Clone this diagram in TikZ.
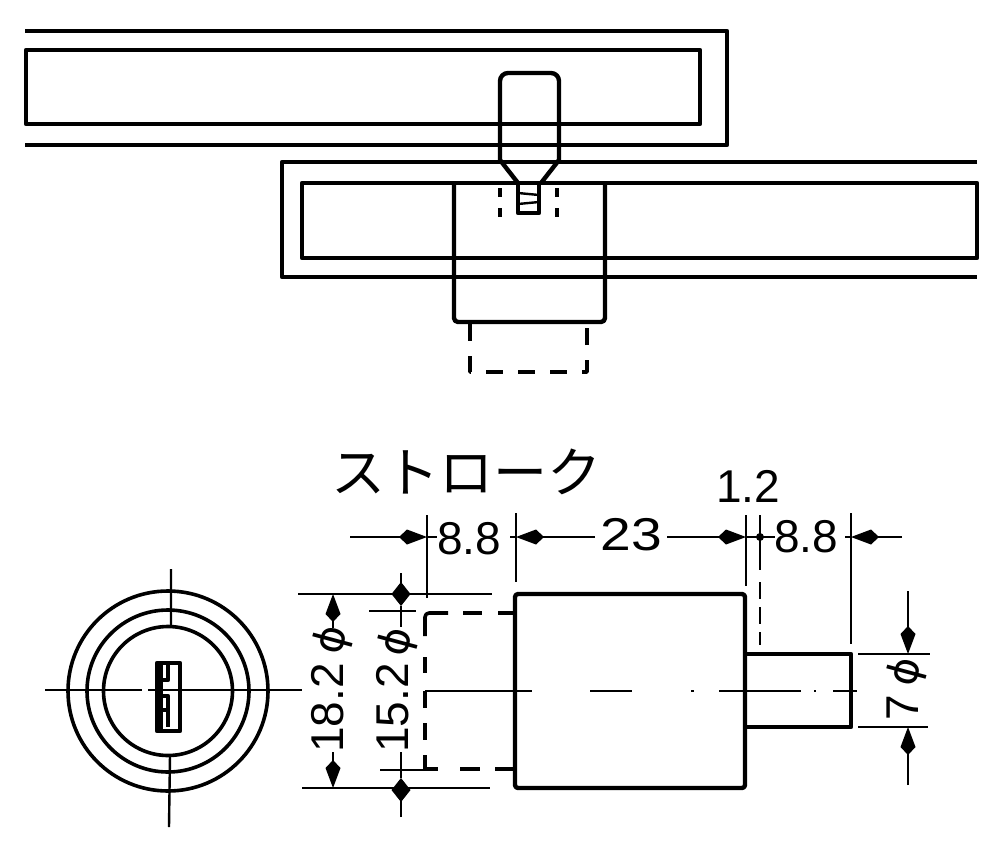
\documentclass[tikz,border=0pt]{standalone}
\usepackage{fontspec}
\setmainfont{Liberation Sans}
\newfontfamily\cjkfont{Noto Sans CJK JP}
\newfontfamily\phifont{DejaVu Sans}
\usepackage{tikz}
\usetikzlibrary{arrows.meta, positioning, calc}

\begin{document}
\begin{tikzpicture}[
    x=1pt, y=-1pt,
    every node/.style={inner sep=0pt, font=\fontsize{46}{46}\selectfont},
    outline/.style={
        line width=4.4pt,
        draw=black,
        line join=round
    },
    hidden/.style={
        line width=3.6pt,
        draw=black,
        line join=round
    },
    thinline/.style={
        line width=2.4pt,
        draw=black
    },
    dimarrow/.style={
        -{Kite[length=28pt, width=15pt, inset=8pt]},
        line width=2.4pt,
        draw=black
    },
    blobarrow/.style={
        -{Kite[length=24pt, width=19pt, inset=12pt]},
        line width=2.4pt,
        draw=black
    },
    phisign/.style={
        font=\fontsize{42}{42}\selectfont\phifont,
        rotate=75
    }
]
\useasboundingbox (0,0) rectangle (1000,851);

% Upper panel
\draw[outline] (25,31) -- (727,31) -- (727,145) -- (25,145);
\draw[outline] (26,50) rectangle (700,124);

% Lower panel
\draw[outline] (977,162) -- (282,162) -- (282,277) -- (977,277);
\draw[outline] (977,183) -- (302,183) -- (302,258) -- (977,258) -- cycle;

% Lock body with plunger drawn out
\draw[outline, rounded corners=4pt] (454,183) -- (454,322) -- (605,322) -- (605,183);
\draw[hidden, dash pattern=on 17pt off 15pt] (470,324) -- (470,372) -- (587,372) -- (587,324);

% Striker pin
\draw[outline, rounded corners=8pt] (500,162) -- (500,73) -- (559,73) -- (559,162);
\draw[outline] (500,160) -- (518,183) (559,160) -- (541,183);
\draw[outline] (518,183) -- (518,213) -- (539,213) -- (539,183);
\draw[thinline] (518,193) -- (539,195) (518,204) -- (539,202);
\draw[hidden, dash pattern=on 9pt off 11pt] (500,188) -- (500,226);
\draw[hidden, dash pattern=on 9pt off 11pt] (557,188) -- (557,226);

% Front view
\draw[hidden] (168,691) circle (100);
\draw[hidden] (168,691) circle (81);
\draw[hidden] (168,691) circle (64.5);
\draw[thinline] (45,690) -- (142,690) (148,690) -- (302,690);
\draw[thinline] (171,569) -- (171,626) (170,755) -- (169,827);
\draw[outline] (157,663) rectangle (180,731);
\draw[outline] (161,663) -- (161,731) (168,663) -- (168,680) -- (162,680);
\draw[outline] (162,696) -- (168,696) -- (168,710) -- (162,710);
\draw[outline] (168,710) -- (168,727);

% Side view
\draw[outline, rounded corners=3pt] (515,594) rectangle (745,788);
\draw[outline] (745,654) -- (851,654) -- (851,727) -- (745,727);
\draw[hidden, rounded corners=4pt] (425,636) -- (425,613) -- (448,613);
\draw[hidden] (463,613) -- (482,613) (498,613) -- (515,613);
\draw[hidden] (425,657) -- (425,673) (425,691) -- (425,708) (425,723) -- (425,740);
\draw[hidden] (425,755) -- (425,769) -- (438,769);
\draw[hidden] (460,769) -- (480,769) (495,769) -- (515,769);
\draw[thinline] (425,691) -- (532,691) (590,691) -- (632,691) (691,691) -- (694,691);
\draw[thinline] (719,691) -- (801,691) (814,691) -- (816,691) (833,691) -- (857,691);

% Extension lines, top
\draw[thinline] (427,515) -- (427,598);
\draw[thinline] (516,513) -- (516,582);
\draw[thinline] (746,515) -- (746,586);
\draw[thinline] (760,515) -- (760,570);
\draw[thinline, dash pattern=on 17pt off 8pt] (760,582) -- (760,645);
\draw[thinline] (851,513) -- (851,644);

% Extension lines, left and right
\draw[thinline] (298,594) -- (492,594);
\draw[thinline] (302,788) -- (490,788);
\draw[thinline] (369,611) -- (416,611);
\draw[thinline] (380,770) -- (425,770);
\draw[thinline] (858,654) -- (930,654);
\draw[thinline] (858,727) -- (928,727);

% Dimensions, top
\draw[dimarrow] (350,537) -- (427,537);
\draw[thinline] (427,537) -- (437,537);
\draw[dimarrow] (595,537) -- (516,537);
\draw[thinline] (516,537) -- (510,537);
\draw[dimarrow] (667,537) -- (746,537);
\draw[thinline] (746,537) -- (775,537);
\draw[dimarrow] (902,537) -- (851,537);
\draw[thinline] (851,537) -- (845,537);
\fill (760,537) circle (4);

% Dimensions, left
\draw[dimarrow] (333,628) -- (333,594);
\draw[dimarrow] (333,752) -- (333,788);
\draw[blobarrow] (401,573) -- (401,606);
\draw[thinline] (401,606) -- (401,627);
\draw[blobarrow] (401,817) -- (401,778);
\draw[thinline] (401,778) -- (401,752);

% Dimensions, right
\draw[dimarrow] (908,591) -- (908,654);
\draw[dimarrow] (908,785) -- (908,727);

% Labels
\node[font=\fontsize{54}{54}\selectfont\cjkfont] (stroke) at (466,472) {ストローク};
\node (dimonept) at (748,486) {1.2};
\node (dimleft) at (469,539) {8.8};
\node[xscale=1.2] (dimbody) at (631,535) {23};
\node (dimright) at (806,537) {8.8};
\node[rotate=90] (dimouter) at (328,708) {18.2};
\node[rotate=90] (diminner) at (393,708) {15.2};
\node[rotate=90] (dimshaft) at (903,708) {7};
\node[phisign] (phiouter) at (333,640) {ϕ};
\node[phisign] (phiinner) at (398,642) {ϕ};
\node[phisign] (phishaft) at (907,672) {ϕ};

\end{tikzpicture}
\end{document}
